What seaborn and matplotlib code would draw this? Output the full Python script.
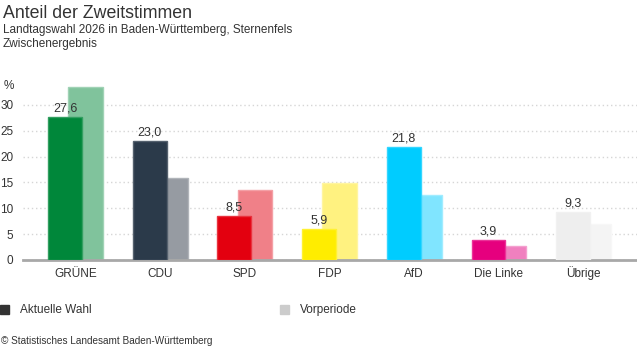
import matplotlib
matplotlib.use('Agg')
import matplotlib.pyplot as plt
import matplotlib.colors as mcolors
import seaborn as sns
import pandas as pd

parties = ["GRÜNE", "CDU", "SPD", "FDP", "AfD", "Die Linke", "Übrige"]
current = [27.6, 23.0, 8.5, 5.9, 21.8, 3.9, 9.3]
previous = [33.4, 15.8, 13.5, 14.9, 12.5, 2.8, 6.9]
yticks = [0, 5, 10, 15, 20, 25, 30]
colors_cur = ["#00873a", "#2b3a4a", "#e3000f", "#ffed00", "#00ccff", "#e6007e", "#eeeeee"]
colors_prev = ["#80c39c", "#969ba2", "#f08088", "#fff280", "#80e5ff", "#f080bf", "#f4f4f4"]

sns.set_theme(style="white")
plt.rcParams['font.family'] = ['Liberation Sans', 'DejaVu Sans']
TXT = "#333333"

W, H = 637, 352
fig = plt.figure(figsize=(W / 100, H / 100), dpi=100)
ax = fig.add_axes([23 / W, 92 / H, 614 / W, 181 / H])

df = pd.DataFrame({"party": parties, "current": current, "previous": previous})


def lighten(c, f):
    r, g, b = mcolors.to_rgb(c)
    return (r + (1 - r) * f, g + (1 - g) * f, b + (1 - b) * f)


sns.barplot(data=df, x="party", y="previous", hue="party", order=parties,
            hue_order=parties, palette=colors_prev, width=0.41, saturation=1,
            legend=False, ax=ax)
prev_patches = list(ax.patches)
for p in prev_patches:
    p.set_x(p.get_x() + 0.118)

sns.barplot(data=df, x="party", y="current", hue="party", order=parties,
            hue_order=parties, palette=colors_cur, width=0.40, saturation=1,
            legend=False, ax=ax)
cur_patches = [p for p in ax.patches if p not in prev_patches]
for p in cur_patches:
    p.set_x(p.get_x() - 0.124)

for p in prev_patches:
    idx = int(round(p.get_x() + p.get_width() / 2 - 0.118))
    p.set_edgecolor(lighten(colors_prev[idx], 0.25))
    p.set_linewidth(1)
for p in cur_patches:
    idx = int(round(p.get_x() + p.get_width() / 2 + 0.124))
    p.set_edgecolor(lighten(colors_cur[idx], 0.2))
    p.set_linewidth(1)
    p.set_zorder(3)
    ax.annotate(f"{current[idx]:.1f}".replace(".", ","),
                (p.get_x() + p.get_width() / 2, p.get_height()),
                xytext=(0, 2), textcoords="offset points",
                ha="center", va="bottom", fontsize=9, color=TXT, zorder=4)

ax.set_xlim(-0.62, 6.63)
ax.set_ylim(0, 35)
ax.set_yticks(yticks)
ax.set_yticklabels([str(t) for t in yticks])
ax.set_axisbelow(True)
ax.yaxis.grid(True, linestyle=(0, (1, 2)), color="#d6d6d6", linewidth=1)
ax.xaxis.grid(False)
for s in ["top", "right", "left"]:
    ax.spines[s].set_visible(False)
ax.spines["bottom"].set_color("#a8a8a8")
ax.spines["bottom"].set_linewidth(2)
ax.tick_params(axis="y", length=0, pad=7, labelsize=8.5, labelcolor=TXT)
ax.tick_params(axis="x", length=0, pad=12, labelsize=8.5, labelcolor=TXT)
for lbl in ax.get_xticklabels():
    lbl.set_verticalalignment("baseline")
ax.set_xlabel("")
ax.set_ylabel("")

fig.text(3 / W, 1 - 18 / H, "Anteil der Zweitstimmen", fontsize=12.8, color=TXT, va="baseline")
fig.text(3 / W, 1 - 33.5 / H, "Landtagswahl 2026 in Baden-Württemberg, Sternenfels",
         fontsize=8.5, color=TXT, va="baseline")
fig.text(3 / W, 1 - 47.5 / H, "Zwischenergebnis", fontsize=8.5, color=TXT, va="baseline")
fig.text(4 / W, 1 - 86 / H, "%", fontsize=8.5, color=TXT, va="center")

# legend
fig.patches.append(plt.Rectangle((0, 1 - 314 / H), 9 / W, 9 / H, transform=fig.transFigure,
                                 color="#333333", figure=fig))
fig.text(20 / W, 1 - 310 / H, "Aktuelle Wahl", fontsize=8.5, color=TXT, va="center")
fig.patches.append(plt.Rectangle((280 / W, 1 - 314 / H), 9 / W, 9 / H, transform=fig.transFigure,
                                 color="#cccccc", figure=fig))
fig.text(300 / W, 1 - 310 / H, "Vorperiode", fontsize=8.5, color=TXT, va="center")

fig.text(1 / W, 1 - 341 / H, "© Statistisches Landesamt Baden-Württemberg", fontsize=7.2,
         color=TXT, va="center")

fig.savefig("out.png", dpi=100)
